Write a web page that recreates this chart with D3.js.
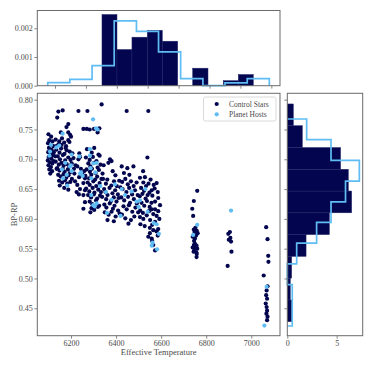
<!DOCTYPE html>
<html><head><meta charset="utf-8">
<script src="https://cdn.jsdelivr.net/npm/d3@7"></script>
<style>body{margin:0;background:#fff} svg text{font-family:"Liberation Serif","DejaVu Serif",serif;}</style>
</head><body>
<svg id="c" width="374" height="374"></svg>
<script>
// ---- data ----
const controlStars = [
[6100,0.742],[6112,0.738],[6104,0.732],[6118,0.730],[6098,0.727],[6110,0.724],[6121,0.722],[6102,0.719],[6114,0.716],[6099,0.712],[6108,0.709],[6120,0.707],[6101,0.704],[6113,0.701],[6097,0.698],[6106,0.695],[6117,0.693],[6100,0.690],[6111,0.687],[6104,0.683],[6116,0.680],[6108,0.676],[6122,0.697],[6124,0.712],
[6144,0.780],[6163,0.782],[6139,0.770],[6188,0.759],[6180,0.754],[6188,0.745],[6196,0.741],[6188,0.732],[6193,0.729],[6132,0.733],[6148,0.730],[6144,0.725],[6134,0.722],[6160,0.735],[6170,0.728],[6200,0.738],[6178,0.722],[6155,0.745],
[6135,0.716],[6149,0.711],[6156,0.718],[6171,0.709],[6181,0.715],[6194,0.713],[6206,0.710],
[6141,0.705],[6151,0.700],[6164,0.707],[6174,0.698],[6188,0.703],[6198,0.699],[6211,0.702],
[6132,0.696],[6146,0.691],[6158,0.694],[6167,0.689],[6181,0.692],[6193,0.688],[6203,0.693],
[6139,0.685],[6149,0.681],[6163,0.684],[6172,0.679],[6186,0.683],[6196,0.678],[6213,0.684],
[6143,0.674],[6154,0.671],[6167,0.675],[6179,0.669],[6189,0.673],[6204,0.667],
[6147,0.664],[6161,0.661],[6173,0.665],[6183,0.659],[6197,0.662],
[6150,0.656],[6170,0.652],[6188,0.649],[6215,0.676],[6220,0.690],[6136,0.684],[6130,0.705],[6158,0.724],[6176,0.719],
[6237,0.710],[6240,0.704],[6233,0.700],[6228,0.688],[6244,0.684],[6250,0.675],[6258,0.680],[6236,0.670],[6228,0.657],[6240,0.650],[6255,0.660],[6235,0.641],[6255,0.640],[6262,0.648],[6255,0.617],[6225,0.645],[6218,0.663],[6262,0.668],
[6233,0.781],[6273,0.781],[6336,0.792],[6255,0.751],[6270,0.751],[6302,0.751],[6326,0.752],[6283,0.750],[6318,0.745],
[6271,0.717],[6292,0.711],[6303,0.719],[6322,0.708],
[6266,0.703],[6283,0.699],[6297,0.704],[6313,0.697],[6327,0.706],
[6277,0.693],[6286,0.688],[6302,0.694],[6318,0.686],[6331,0.691],
[6269,0.683],[6284,0.679],[6293,0.684],[6309,0.677],[6324,0.682],
[6264,0.672],[6280,0.668],[6290,0.674],[6307,0.666],[6316,0.671],[6335,0.667],
[6274,0.661],[6283,0.657],[6299,0.663],[6312,0.655],[6327,0.660],
[6267,0.651],[6281,0.646],[6296,0.652],[6304,0.644],[6321,0.649],[6333,0.645],
[6276,0.640],[6289,0.636],[6301,0.641],[6316,0.634],[6329,0.639],
[6283,0.629],[6294,0.625],[6311,0.631],[6325,0.622],
[6291,0.618],[6303,0.615],[6319,0.620],[6286,0.611],[6262,0.628],
[6373,0.700],[6380,0.697],[6366,0.694],[6385,0.680],[6345,0.690],
[6342,0.667],[6355,0.659],[6361,0.666],[6379,0.656],[6391,0.663],[6403,0.655],[6414,0.664],
[6347,0.650],[6353,0.645],[6371,0.652],[6384,0.643],[6396,0.648],[6408,0.641],[6419,0.653],
[6338,0.637],[6356,0.633],[6362,0.640],[6378,0.630],[6390,0.636],[6402,0.629],[6411,0.635],
[6348,0.624],[6357,0.619],[6372,0.626],[6386,0.617],[6393,0.622],[6409,0.614],
[6350,0.611],[6367,0.607],[6380,0.612],[6398,0.604],[6416,0.609],
[6362,0.598],[6390,0.596],[6340,0.676],[6397,0.673],
[6425,0.688],[6450,0.685],[6477,0.688],[6459,0.674],[6435,0.677],
[6427,0.662],[6441,0.667],[6452,0.658],[6466,0.663],[6478,0.655],[6491,0.661],
[6429,0.650],[6446,0.645],[6458,0.652],[6471,0.641],[6484,0.648],[6496,0.640],
[6423,0.636],[6436,0.631],[6453,0.637],[6462,0.627],[6479,0.633],[6492,0.626],
[6433,0.621],[6447,0.616],[6457,0.623],[6472,0.612],[6486,0.619],[6498,0.611],
[6426,0.607],[6441,0.601],[6466,0.598],[6481,0.604],[6447,0.781],[6455,0.592],
[6539,0.703],[6543,0.781],[6520,0.680],
[6506,0.669],[6521,0.661],[6528,0.670],[6544,0.659],[6553,0.666],[6567,0.657],[6580,0.660],
[6511,0.652],[6524,0.647],[6533,0.655],[6548,0.644],[6558,0.648],[6571,0.651],[6585,0.645],
[6505,0.638],[6517,0.642],[6531,0.634],[6540,0.640],[6561,0.639],[6587,0.635],[6573,0.629],
[6513,0.627],[6525,0.622],[6537,0.630],[6549,0.620],[6557,0.627],[6595,0.623],
[6507,0.614],[6519,0.610],[6546,0.613],[6558,0.616],[6573,0.616],[6587,0.613],
[6506,0.603],[6521,0.600],[6536,0.606],[6551,0.598],[6565,0.608],[6580,0.605],
[6508,0.591],[6527,0.588],[6573,0.595],[6560,0.590],
[6587,0.583],[6580,0.579],[6550,0.576],[6565,0.581],[6543,0.570],[6558,0.567],[6560,0.563],[6565,0.556],[6573,0.547],[6585,0.572],[6592,0.600],[6550,0.585],
[6760,0.647],[6745,0.630],[6738,0.617],[6742,0.605],[6752,0.585],[6745,0.582],[6758,0.580],[6762,0.576],[6748,0.578],[6755,0.572],[6740,0.570],[6750,0.567],[6745,0.556],[6752,0.553],[6740,0.552],[6757,0.555],[6748,0.548],[6760,0.550],[6744,0.545],[6756,0.544],[6758,0.541],[6757,0.536],[6750,0.558],[6746,0.563],
[6905,0.578],[6898,0.575],[6907,0.568],[6900,0.565],[6910,0.562],[6912,0.545],[6895,0.521],
[7066,0.586],[7072,0.566],[7075,0.538],[7076,0.528],[7055,0.505],[7072,0.487],[7068,0.480],[7066,0.472],[7070,0.466],[7064,0.458],[7068,0.452],[7070,0.446],[7067,0.441],[7072,0.436],[7070,0.430]
];
const planetHosts = [
[6298,0.767],[6311,0.752],[6318,0.750],[6163,0.743],
[6111,0.724],[6148,0.723],[6107,0.713],[6104,0.706],[6203,0.708],[6284,0.717],[6284,0.706],[6237,0.705],[6135,0.720],
[6299,0.693],[6196,0.688],[6181,0.674],[6200,0.690],[6160,0.683],[6175,0.694],[6245,0.678],[6252,0.672],[6287,0.685],[6308,0.678],[6314,0.694],[6290,0.668],[6203,0.680],[6165,0.668],[6240,0.676],
[6184,0.656],[6425,0.650],[6469,0.646],[6491,0.629],[6355,0.645],[6330,0.655],[6290,0.640],[6395,0.658],[6440,0.640],[6506,0.631],[6530,0.650],[6380,0.632],
[6299,0.623],[6314,0.626],[6305,0.621],[6500,0.620],[6540,0.612],[6360,0.610],[6420,0.605],[6910,0.614],
[6567,0.593],[6580,0.591],[6760,0.590],[6742,0.573],[6562,0.560],[6590,0.575],
[6582,0.549],[6558,0.555],
[7068,0.486],[7058,0.421]
];
const topControlEdges = [6104,6201,6298,6397,6494,6594,6691,6790,6889,6986,7083];
const topControlDensity = [0.00248,0.00126,0.00169,0.00193,0.00155,0,0.00061,0,0.000175,0.00039];
const topPlanetEdges = [5753,5896,6040,6183,6327,6470,6613,6757,6900,7044,7187];
const topPlanetDensity = [0.00011,0.00022,0.0007,0.00226,0.00189,0.00118,0.000245,0,0.0001,0.000245];
const rightControlEdges = [0.4275,0.4640,0.5006,0.5371,0.5736,0.6102,0.6467,0.6832,0.7197,0.7563,0.7928];
const rightControlDensity = [0.45,0.3,0.44,1.9,4.26,6.52,6.18,5.4,1.52,0.61];
const rightPlanetEdges = [0.4203,0.4550,0.4898,0.5245,0.5592,0.5940,0.6287,0.6634,0.6982,0.7329,0.7676];
const rightPlanetDensity = [0.5,0.5,0,0.95,2.97,4.43,5.9,7.3,4.43,1.96];
const xTicks = [6200,6400,6600,6800,7000];
const yTicks = [0.45,0.50,0.55,0.60,0.65,0.70,0.75,0.80];
const topXTicks = [5800,6000,6200,6400,6600,6800,7000,7200];
const topYTicks = [0,0.001,0.002];
const rightXTicks = [0,5];
const legendLabels = ["Control Stars","Planet Hosts"];
const xLabel = "Effective Temperature", yLabel = "BP-RP";

// ---- style ----
const NAVY = "#03064f", LIGHT = "#5fbdf4", SPINE = "#6b6b6b", TXT = "#4a4a4a";
const FS = 8;
const svg = d3.select("#c");

// panels
const mainP = {l:37.3, r:280, t:93.3, b:335.7};
const topP = {l:37.3, r:280, t:10.5, b:85.7};
const rgtP = {l:287.3, r:362.7, t:93.3, b:335.7};

const x = d3.scaleLinear().domain([6050.5,7127.3]).range([mainP.l, mainP.r]);
const y = d3.scaleLinear().domain([0.4040,0.8107]).range([mainP.b, mainP.t]);
const tx = d3.scaleLinear().domain([5685.4,7256]).range([topP.l, topP.r]);
const ty = d3.scaleLinear().domain([0,0.00262]).range([topP.b, topP.t]);
const rx = d3.scaleLinear().domain([0,7.64]).range([rgtP.l, rgtP.r]);

function styleAxis(g){
  g.select(".domain").remove();
  g.selectAll(".tick line").attr("stroke",SPINE).attr("stroke-width",0.8);
  g.selectAll(".tick text").attr("fill",TXT).style("font-size",FS+"px").style("font-family",'"Liberation Serif",serif');
}
function box(p){
  svg.append("rect").attr("x",p.l).attr("y",p.t).attr("width",p.r-p.l).attr("height",p.b-p.t)
    .attr("fill","none").attr("stroke",SPINE).attr("stroke-width",1);
}

// ---- top histogram ----
const gTop = svg.append("g");
gTop.selectAll("rect.bar").data(topControlDensity.map((d,i)=>({d,x0:topControlEdges[i],x1:topControlEdges[i+1]})).filter(o=>o.d>0))
  .enter().append("rect")
  .attr("x",o=>tx(o.x0)).attr("width",o=>tx(o.x1)-tx(o.x0))
  .attr("y",o=>ty(o.d)).attr("height",o=>ty(0)-ty(o.d))
  .attr("fill",NAVY).attr("stroke","#23276a").attr("stroke-width",0.5);
const topStep = [[topPlanetEdges[0],0]];
topPlanetDensity.forEach((d,i)=>{topStep.push([topPlanetEdges[i],d]);topStep.push([topPlanetEdges[i+1],d]);});
topStep.push([topPlanetEdges[topPlanetEdges.length-1],0]);
gTop.append("path").attr("d",d3.line().x(p=>tx(p[0])).y(p=>ty(p[1]))(topStep))
  .attr("fill","none").attr("stroke",LIGHT).attr("stroke-width",1.7).attr("stroke-linejoin","miter");
box(topP);
svg.append("g").attr("transform",`translate(0,${topP.b})`)
  .call(d3.axisBottom(tx).tickValues(topXTicks).tickSize(3).tickFormat("")).call(styleAxis);
svg.append("g").attr("transform",`translate(${topP.l},0)`)
  .call(d3.axisLeft(ty).tickValues(topYTicks).tickSize(3).tickPadding(1.5).tickFormat(d3.format(".3f"))).call(styleAxis);

// ---- main scatter ----
const gMain = svg.append("g");
gMain.selectAll("circle.c").data(controlStars).enter().append("circle")
  .attr("cx",d=>x(d[0])).attr("cy",d=>y(d[1])).attr("r",2.1).attr("fill",NAVY);
gMain.selectAll("circle.p").data(planetHosts).enter().append("circle")
  .attr("cx",d=>x(d[0])).attr("cy",d=>y(d[1])).attr("r",2.1).attr("fill",LIGHT);
box(mainP);
svg.append("g").attr("transform",`translate(0,${mainP.b})`)
  .call(d3.axisBottom(x).tickValues(xTicks).tickSize(3).tickPadding(2).tickFormat(d3.format("d"))).call(styleAxis);
svg.append("g").attr("transform",`translate(${mainP.l},0)`)
  .call(d3.axisLeft(y).tickValues(yTicks).tickSize(3).tickPadding(1.5).tickFormat(d3.format(".2f"))).call(styleAxis);
svg.append("text").attr("x",(mainP.l+mainP.r)/2).attr("y",355).attr("text-anchor","middle")
  .attr("fill",TXT).style("font-size","8.5px").text(xLabel);
svg.append("text").attr("transform",`translate(16.5,${(mainP.t+mainP.b)/2}) rotate(-90)`).attr("text-anchor","middle")
  .attr("fill",TXT).style("font-size","8.5px").text(yLabel);

// legend
const lg = svg.append("g");
lg.append("rect").attr("x",203.5).attr("y",97).attr("width",72.5).attr("height",24).attr("rx",2)
  .attr("fill","#fff").attr("fill-opacity",0.8).attr("stroke","#d0d0d0").attr("stroke-width",0.8);
[[NAVY,104],[LIGHT,114.3]].forEach((c,i)=>{
  lg.append("circle").attr("cx",216.7).attr("cy",c[1]).attr("r",2.1).attr("fill",c[0]);
  lg.append("text").attr("x",229).attr("y",c[1]+2.7).attr("fill",TXT).style("font-size","7.5px").text(legendLabels[i]);
});

// ---- right histogram ----
const gR = svg.append("g");
gR.selectAll("rect.bar").data(rightControlDensity.map((d,i)=>({d,y0:rightControlEdges[i],y1:rightControlEdges[i+1]})).filter(o=>o.d>0))
  .enter().append("rect")
  .attr("x",rx(0)).attr("width",o=>rx(o.d)-rx(0))
  .attr("y",o=>y(o.y1)).attr("height",o=>y(o.y0)-y(o.y1))
  .attr("fill",NAVY).attr("stroke","#23276a").attr("stroke-width",0.5);
const rStep = [[0,rightPlanetEdges[0]]];
rightPlanetDensity.forEach((d,i)=>{rStep.push([d,rightPlanetEdges[i]]);rStep.push([d,rightPlanetEdges[i+1]]);});
rStep.push([0,rightPlanetEdges[rightPlanetEdges.length-1]]);
gR.append("path").attr("d",d3.line().x(p=>rx(p[0])).y(p=>y(p[1]))(rStep))
  .attr("fill","none").attr("stroke",LIGHT).attr("stroke-width",1.7);
box(rgtP);
svg.append("g").attr("transform",`translate(0,${rgtP.b})`)
  .call(d3.axisBottom(rx).tickValues(rightXTicks).tickSize(3).tickPadding(2).tickFormat(d3.format("d"))).call(styleAxis);
svg.append("g").attr("transform",`translate(${rgtP.l},0)`)
  .call(d3.axisLeft(y).tickValues(yTicks).tickSize(3).tickFormat("")).call(styleAxis);
</script>
</body></html>
